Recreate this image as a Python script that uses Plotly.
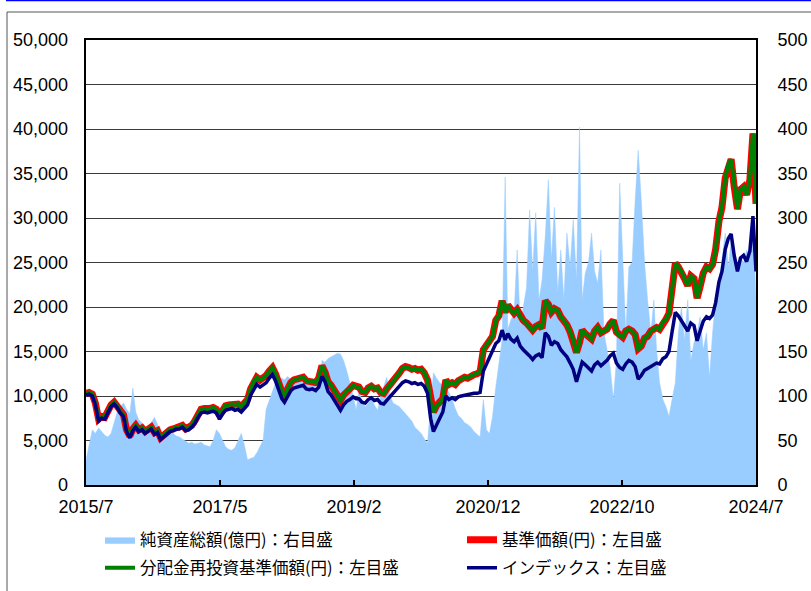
import plotly.graph_objects as go
import pandas as pd

# semi-monthly observation dates (1st and 16th), 2015/7 .. 2024/7
dates = []
for y in range(2015, 2025):
    for m in range(1, 13):
        if (y, m) < (2015, 7) or (y, m) > (2024, 7):
            continue
        dates.append(f"{y}-{m:02d}-01")
        if (y, m) != (2024, 7):
            dates.append(f"{y}-{m:02d}-16")

tick_labels = ["2015/7", "2017/5", "2019/2", "2020/12", "2022/10", "2024/7"]

# 基準価額(円)
nav = [10300, 10400, 10200, 9200, 7400, 7700, 7600, 8300, 9000, 9300, 8900, 8300, 7900,
       6200, 5500, 6300, 6700, 6200, 6400, 6000, 6300, 6500, 5900, 6100, 5300,
       5600, 6000, 6200, 6300, 6500, 6500, 6700, 6300, 6400, 6700, 7200,
       7900, 8500, 8600, 8500, 8600, 8700, 8500, 7800, 8400, 8900, 9000, 9100,
       9000, 9100, 8800, 9200, 9600, 10800, 11600, 12100, 11800, 12000, 12300, 12800,
       13200, 12500, 11400, 10500, 10100, 10900, 11500, 11800, 11900, 12000, 12100, 11700,
       11600, 11700, 11500, 12000, 13400, 12700, 11600, 11200, 10600, 10000, 9500, 10100,
       10600, 10800, 11200, 11000, 11000, 10500, 10400, 10900, 11100, 10800, 10900, 10400,
       10300, 10800, 11200, 11600, 12100, 12600, 13100, 13300, 13200, 13000, 13100, 12900,
       13000, 12600, 11800, 9300, 8200, 8900, 9200, 9700, 11800, 11300, 11500, 11300,
       11700, 11900, 12100, 12000, 12300, 12400, 12500, 12700,
       15200, 15700, 16300, 16700, 18500, 19000, 20700, 19400, 20200, 19600, 19300, 19700,
       18900, 18500, 18200, 17700, 17400, 17800, 18000, 17600,
       20700, 20300, 19400, 19800, 19600, 18900, 18500, 18000, 17200, 16300, 14900, 16000,
       17400, 17000, 16800, 16400, 17300, 17700, 17100, 17300, 17500, 18100, 18500, 17200,
       16800, 16600, 17300, 17500, 17300, 16900, 15300, 15600, 16500, 16700, 17300, 17500,
       17700, 17500, 18300, 18600, 19300, 22000, 24900, 24500, 24000, 23200, 22400, 23500,
       23200, 21000, 22300, 23800, 24500, 24300, 24800, 26500, 29600, 31200, 34500, 36000,
       36600, 33500, 31000, 33200, 33500, 32600, 34300, 39500, 31600]

# 分配金再投資基準価額(円)
nav_reinv = [10300, 10400, 10200, 9200, 7400, 7700, 7600, 8300, 9000, 9300, 8900, 8300, 7900,
       6200, 5500, 6300, 6700, 6200, 6400, 6000, 6300, 6500, 5900, 6100, 5300,
       5600, 6000, 6200, 6300, 6500, 6500, 6700, 6300, 6400, 6700, 7200,
       7900, 8500, 8600, 8500, 8600, 8700, 8500, 7800, 8400, 8900, 9000, 9100,
       9000, 9100, 8800, 9200, 9600, 10800, 11600, 12100, 11800, 12000, 12300, 12800,
       13200, 12500, 11400, 10500, 10100, 10900, 11500, 11800, 11900, 12000, 12100, 11700,
       11600, 11700, 11500, 12000, 13400, 12700, 11600, 11200, 10600, 10000, 9500, 10100,
       10600, 10800, 11200, 11000, 11000, 10500, 10400, 10900, 11100, 10800, 10900, 10400,
       10300, 10800, 11200, 11600, 12100, 12600, 13100, 13300, 13200, 13000, 13100, 12900,
       13000, 12600, 11800, 9300, 8200, 8900, 9200, 9700, 11800, 11300, 11500, 11300,
       11700, 11900, 12100, 12000, 12300, 12400, 12500, 12700,
       15200, 15700, 16300, 16700, 18500, 19000, 20700, 19400, 20200, 19600, 19300, 19700,
       18900, 18500, 18200, 17700, 17400, 17800, 18000, 17600,
       20700, 20300, 19400, 19800, 19600, 18900, 18500, 18000, 17200, 16300, 14900, 16000,
       17400, 17000, 16800, 16400, 17300, 17700, 17100, 17300, 17500, 18100, 18500, 17200,
       16800, 16600, 17300, 17500, 17300, 16900, 15300, 15600, 16500, 16700, 17300, 17500,
       17700, 17500, 18300, 18600, 19300, 22000, 24900, 24500, 24000, 23200, 22400, 23500,
       23200, 21000, 22300, 23800, 24500, 24300, 24800, 26500, 29600, 31200, 34500, 36000,
       36600, 33500, 31000, 33200, 33500, 32600, 34300, 39500, 31600]

# インデックス
index_vals = [10100, 10200, 10000, 9000, 7200, 7500, 7400, 8100, 8800, 9100, 8700, 8100, 7700,
       6000, 5300, 6100, 6500, 6000, 6200, 5800, 6100, 6300, 5700, 5900, 5100,
       5400, 5800, 6000, 6100, 6300, 6300, 6500, 6100, 6200, 6500, 6900,
       7600, 8100, 8200, 8100, 8200, 8300, 8100, 7400, 8000, 8400, 8500, 8600,
       8400, 8500, 8200, 8600, 9000, 10100, 10800, 11300, 11000, 11200, 11500, 12000,
       12400, 11700, 10600, 9700, 9300, 10000, 10600, 10900, 11000, 11100, 11200, 10800,
       10700, 10800, 10600, 11000, 12200, 11600, 10500, 10100, 9500, 8900, 8400, 9000,
       9400, 9600, 9900, 9700, 9700, 9300, 9200, 9600, 9800, 9500, 9600, 9200,
       9100, 9500, 9900, 10200, 10700, 11100, 11500, 11700, 11600, 11400, 11500, 11300,
       11400, 11100, 10300, 7500, 6000, 6800, 7500, 8200, 10000, 9600, 9800, 9600,
       9900, 10000, 10100, 10100, 10200, 10300, 10300, 10400,
       12800, 13600, 14300, 15200, 15900, 16200, 17400, 16300, 17000, 16400, 16100, 16500,
       15600, 15200, 14900, 14500, 14100, 14500, 14700, 14300,
       17100, 16700, 15700, 16100, 15900, 15200, 14800, 14400, 13700, 13000, 11600, 12700,
       13800, 13500, 13200, 12800, 13500, 13800, 13400, 13700, 14000, 14500, 14800, 13700,
       13200, 13000, 13600, 14000, 13800, 13300, 11900, 12300, 12900, 13100, 13300, 13500,
       13700, 13600, 14200, 14400, 15000, 17200, 19400, 19000, 18500, 17900, 17300, 18200,
       17900, 16200, 17200, 18400, 18900, 18700, 19100, 20500, 22800, 24000, 26500, 27700,
       28200, 25800, 24000, 25500, 25800, 25100, 26300, 30200, 24000]

# 純資産総額(億円)
net_assets = [28, 45, 62, 58, 64, 60, 56, 54, 58, 70, 82, 88, 92, 85, 80, 109, 82, 73, 70, 66,
       65, 70, 76, 68, 56, 58, 60, 62, 58, 55, 54, 52, 49, 47, 48, 46, 47, 48, 45, 44,
       43, 50, 62, 58, 50, 43, 40, 39, 42, 50, 58, 45, 28, 30, 31, 36, 43, 50, 85, 96,
       105, 115, 118, 120, 118, 122, 119, 117, 120, 118, 114, 118, 120, 115, 110, 107, 140, 138, 142, 144,
       146, 148, 147, 140, 128, 115, 100, 84, 107, 95, 88, 92, 96, 90, 84, 100, 112, 121, 100, 92,
       90, 88, 84, 80, 76, 72, 65, 62, 58, 52, 47, 90, 126, 120, 115, 112, 110, 104, 96, 86,
       78, 75, 70, 68, 65, 60, 57, 54, 96, 62, 58, 77, 110, 137, 163, 346, 175, 185, 193, 264,
       178, 200, 222, 309, 240, 306, 208, 230, 280, 343, 253, 312, 216, 264, 208, 283, 245, 298, 230, 402,
       208, 238, 250, 283, 240, 227, 264, 171, 152, 133, 96, 140, 339, 264, 171, 245, 250, 320, 376, 320,
       250, 208, 171, 208, 152, 115, 96, 88, 77, 96, 115, 171, 200, 163, 208, 140, 160, 171, 189, 152,
       171, 121, 171, 208, 227, 253, 283, 245, 275, 250, 245, 256, 250, 264, 256, 301, 208]

for s in (nav, nav_reinv, index_vals, net_assets):
    assert len(s) == len(dates), (len(s), len(dates))

tick_positions = pd.date_range(dates[0], dates[-1], periods=len(tick_labels))

# plot area in pixels: x 86..756, y 40..485
def px_x(p):
    return (p - 86) / 670.0

def px_y(p):
    return (485 - p) / 445.0

fig = go.Figure()
fig.add_trace(go.Scatter(x=dates, y=net_assets, name="純資産総額(億円)：右目盛", mode="lines",
                         fill="tozeroy", fillcolor="#99CCFF", line=dict(color="#99CCFF", width=0.5),
                         yaxis="y", legend="legend"))
fig.add_trace(go.Scatter(x=dates, y=nav, name="基準価額(円)：左目盛", mode="lines",
                         line=dict(color="#FF0000", width=7), yaxis="y2", legend="legend2"))
fig.add_trace(go.Scatter(x=dates, y=nav_reinv, name="分配金再投資基準価額(円)：左目盛", mode="lines",
                         line=dict(color="#008000", width=4), yaxis="y2", legend="legend3"))
fig.add_trace(go.Scatter(x=dates, y=index_vals, name="インデックス：左目盛", mode="lines",
                         line=dict(color="#000080", width=3.5), yaxis="y2", legend="legend4"))

tick_font = dict(family="Liberation Sans, Arial, sans-serif", size=18, color="#000000")
leg_font = dict(family="Noto Sans CJK JP, sans-serif", size=16.5, color="#000000")

def leg(xp, yp):
    return dict(orientation="h", x=px_x(xp), xanchor="left", y=px_y(yp), yanchor="middle",
                font=leg_font, bgcolor="rgba(0,0,0,0)", itemclick=False, itemdoubleclick=False)

fig.update_layout(
    width=811, height=591,
    margin=dict(l=86, r=55, t=40, b=106, autoexpand=False),
    paper_bgcolor="white", plot_bgcolor="white",
    xaxis=dict(type="date", range=[dates[0], dates[-1]], tickvals=tick_positions, ticktext=tick_labels,
               ticks="inside", ticklen=5, tickwidth=1.5, tickcolor="#000000",
               showgrid=False, showline=True, linecolor="#000000", linewidth=2, mirror=True,
               tickfont=tick_font, zeroline=False, automargin=False, ticklabelstandoff=4),
    yaxis=dict(range=[0, 500], dtick=50, side="right", showgrid=True, gridcolor="#3a3a3a", gridwidth=1,
               showline=True, linecolor="#000000", linewidth=2, mirror=True, ticks="",
               tickfont=tick_font, zeroline=False, ticklabelstandoff=16, automargin=False),
    yaxis2=dict(range=[0, 50000], dtick=5000, side="left", overlaying="y", tickformat=",",
                showgrid=False, showline=False, ticks="", tickfont=tick_font, zeroline=False,
                ticklabelstandoff=17, automargin=False),
    legend=leg(100, 540),
    legend2=leg(462, 540),
    legend3=leg(100, 568),
    legend4=leg(462, 568),
    showlegend=True,
    shapes=[
        dict(type="line", xref="paper", yref="paper", x0=px_x(6), x1=px_x(811), y0=px_y(0.5), y1=px_y(0.5),
             line=dict(color="#0000FF", width=1.5)),
        dict(type="line", xref="paper", yref="paper", x0=px_x(7), x1=px_x(811), y0=px_y(12), y1=px_y(12),
             line=dict(color="#555555", width=1)),
        dict(type="line", xref="paper", yref="paper", x0=px_x(7), x1=px_x(7), y0=px_y(12), y1=px_y(591),
             line=dict(color="#555555", width=1)),
    ],
)

fig.write_html("out.html", config={"displayModeBar": False},
               post_script="document.body.style.margin='0px';document.body.style.overflow='hidden';")
